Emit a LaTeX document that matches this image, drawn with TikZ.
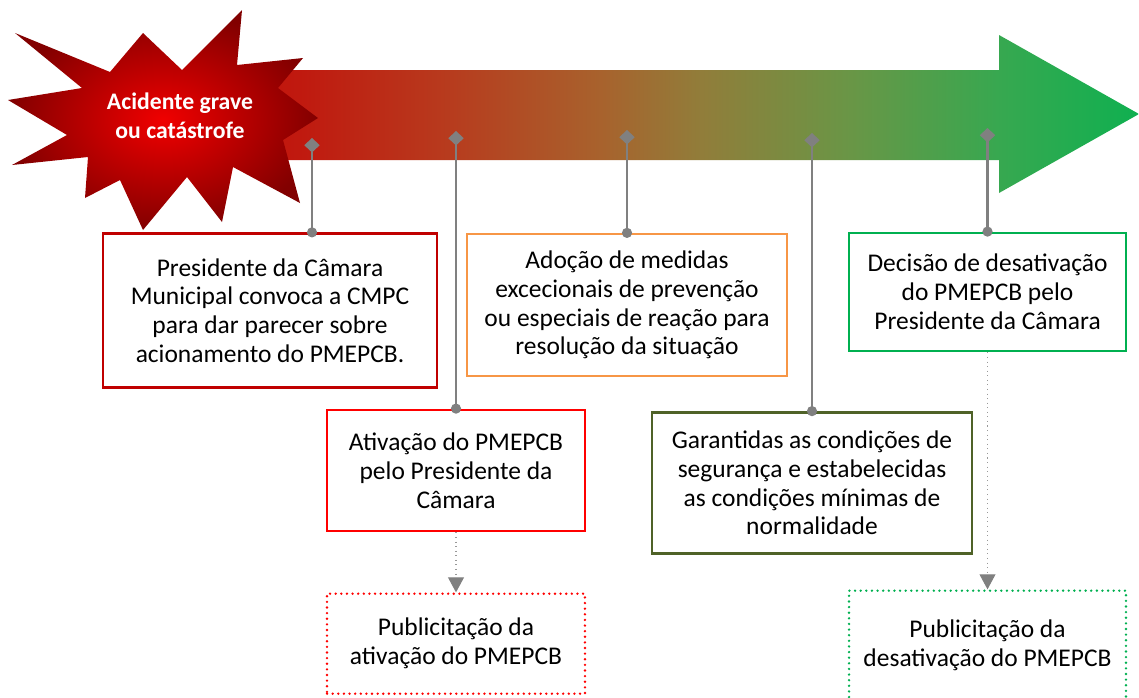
\documentclass[tikz,border=0pt]{standalone}
\usepackage{fontspec}
\setmainfont{Carlito}
\usepackage{tikz}
\usetikzlibrary{arrows.meta,positioning}
\tikzset{
    node distance=1.2cm, % gap between a box and its publication box
    }
\definecolor{boxred}{RGB}{192,0,0}
\definecolor{boxorange}{RGB}{247,150,70}
\definecolor{boxolive}{RGB}{79,98,40}
\definecolor{boxgreen}{RGB}{0,176,80}
\definecolor{stemgray}{RGB}{128,128,128}
\definecolor{starin}{RGB}{240,0,0}
\definecolor{starout}{RGB}{130,0,0}
\newcommand{\boxfont}{\fontsize{14.5}{16.4}\selectfont}
\pgfdeclarehorizontalshading{redtogreen}{100bp}{rgb(0bp)=(.784,.039,.020); rgb(25bp)=(.784,.039,.020); rgb(33.4bp)=(.753,.098,.059); rgb(40.9bp)=(.718,.235,.118); rgb(48.3bp)=(.659,.384,.176); rgb(53.3bp)=(.569,.490,.227); rgb(60.7bp)=(.412,.588,.275); rgb(68.1bp)=(.216,.659,.314); rgb(75bp)=(.059,.690,.314); rgb(100bp)=(.059,.690,.314)}

\begin{document}
\begin{tikzpicture}[x=0.02cm,y=-0.02cm,
textbox/.style={draw, line width=1.3pt, fill=white, align=center, inner sep=0pt, font=\boxfont},
dotbox/.style={textbox, line width=1.5pt, dash pattern=on 0pt off 3.2pt, line cap=round},
startext/.style={align=center, text=white, font=\fontsize{13.5}{16.5}\selectfont\bfseries},
stem/.style={draw=stemgray, line width=1.5pt, {Diamond[length=8.2pt,width=8.8pt]}-{Circle[length=5.7pt]}, shorten >=-2.85pt},
link/.style={draw=stemgray!80, line width=0.6pt, dotted, -{Triangle[length=8.5pt,width=9pt,color=stemgray]}},
]
\useasboundingbox (0,0) rectangle (1139,697);

% timeline arrow
\shade[shading=redtogreen] (130,70) -- (999,70) -- (999,35) -- (1139,114) -- (999,193) -- (999,160) -- (130,160) -- cycle;

% star
\shade[inner color=starin, outer color=starout] (15,33) -- (110,72) -- (143,33) -- (182,70) -- (242,10) -- (237,65) -- (303,58) -- (278,88) -- (318,118) -- (283,140) -- (300,203) -- (233,167) -- (222,222) -- (187,177) -- (143,230) -- (120,180) -- (85,198) -- (88,157) -- (12,165) -- (67,135) -- (8,100) -- (82,88) -- cycle;
\node[startext] (acidente) at (180,116) {Acidente grave\\ou catástrofe};

% boxes
\node[textbox, draw=boxred, minimum width=6.68cm, minimum height=3.08cm] (convoca) at (270,310.5) {Presidente da Câmara\\Municipal convoca a CMPC\\para dar parecer sobre\\acionamento do PMEPCB.};
\node[textbox, draw=red, line width=1.6pt, minimum width=5.16cm, minimum height=2.42cm] (ativacao) at (456,470.5) {Ativação do PMEPCB\\pelo Presidente da\\Câmara};
\node[dotbox, draw=red, minimum width=5.16cm, minimum height=2cm] (pubativ) [below=of ativacao] {Publicitação da\\ativação do PMEPCB};
\node[textbox, draw=boxorange, minimum width=6.4cm, minimum height=2.84cm] (adocao) at (627,305) {Adoção de medidas\\excecionais de prevenção\\ou especiais de reação para\\resolução da situação};
\node[textbox, draw=boxolive, line width=1.6pt, minimum width=6.4cm, minimum height=2.82cm] (garantia) at (812,483) {Garantidas as condições de\\segurança e estabelecidas\\as condições mínimas de\\normalidade};
\node[textbox, draw=boxgreen, line width=1.6pt, minimum width=5.54cm, minimum height=2.36cm] (decisao) at (987.5,292) {Decisão de desativação\\do PMEPCB pelo\\Presidente da Câmara};
\node[dotbox, draw=boxgreen, minimum width=5.54cm, minimum height=2.2cm] (pubdes) [below=4.74cm of decisao] {Publicitação da\\desativação do PMEPCB};

% stems from the timeline
\coordinate (m1) at (312,138);
\coordinate (m2) at (456,131);
\coordinate (m3) at (627,130);
\coordinate (m4) at (812,133);
\coordinate (m5) at (987.5,128);
\draw[stem] (m1) -- (m1 |- convoca.north);
\draw[stem] (m2) -- (ativacao.north);
\draw[stem] (m3) -- (adocao.north);
\draw[stem] (m4) -- (garantia.north);
\draw[stem] (m5) -- (decisao.north);

\draw[link] (ativacao) -- (pubativ);
\draw[link] (decisao) -- (pubdes);

\end{tikzpicture}
\end{document}
